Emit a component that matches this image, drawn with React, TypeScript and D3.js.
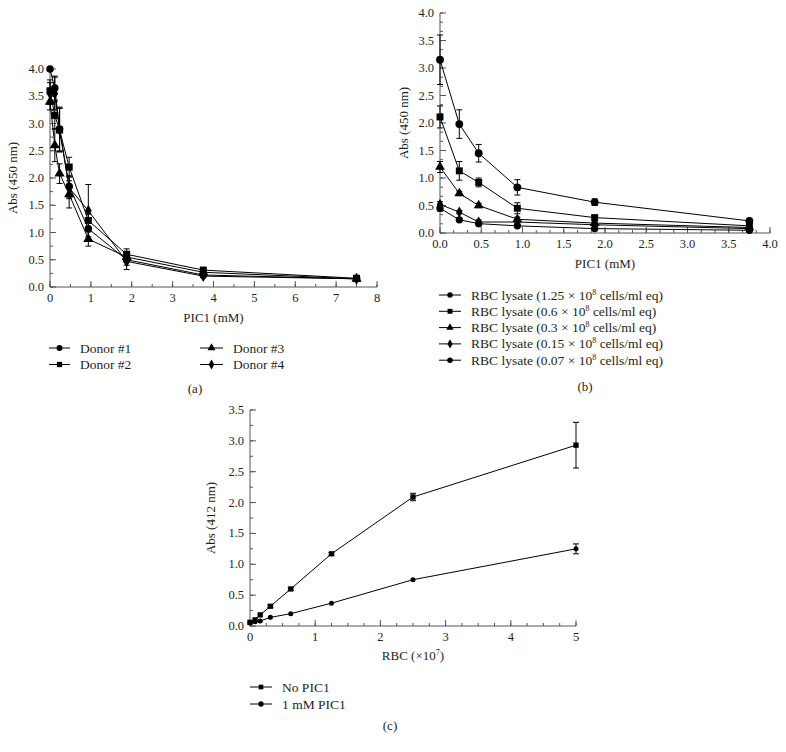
import React from "react";
import * as d3 from "d3";

// ---------- Panel (a) data ----------
const donorX = [0, 0.117, 0.234, 0.469, 0.9375, 1.875, 3.75, 7.5];
const donor1 = [4.0, 3.65, 2.9, 1.85, 1.07, 0.5, 0.22, 0.15];
const donor1Err = [0.0, 0.22, 0.4, 0.2, 0.2, 0.1, 0.03, 0.02];
const donor2 = [3.6, 3.15, 2.88, 2.2, 1.22, 0.6, 0.31, 0.16];
const donor2Err = [0.2, 0.25, 0.4, 0.18, 0.12, 0.1, 0.04, 0.03];
const donor3 = [3.4, 2.6, 2.08, 1.7, 0.88, 0.55, 0.27, 0.15];
const donor3Err = [0.15, 0.3, 0.18, 0.25, 0.13, 0.08, 0.03, 0.02];
const donor4 = [3.55, 3.55, 2.88, 1.82, 1.4, 0.47, 0.2, 0.15];
const donor4Err = [0.2, 0.3, 0.4, 0.2, 0.48, 0.15, 0.03, 0.02];
const donorLabels = ["Donor #1", "Donor #2", "Donor #3", "Donor #4"];
const aXTicks = [0, 1, 2, 3, 4, 5, 6, 7, 8];
const aYTicks = [0, 0.5, 1, 1.5, 2, 2.5, 3, 3.5, 4];

// ---------- Panel (b) data ----------
const lysateX = [0, 0.234, 0.469, 0.9375, 1.875, 3.75];
const lys125 = [3.15, 1.98, 1.45, 0.83, 0.56, 0.22];
const lys125Err = [0.45, 0.26, 0.16, 0.14, 0.06, 0.03];
const lys06 = [2.11, 1.13, 0.92, 0.45, 0.28, 0.13];
const lys06Err = [0.2, 0.17, 0.08, 0.1, 0.04, 0.03];
const lys03 = [1.2, 0.72, 0.5, 0.25, 0.18, 0.1];
const lys03Err = [0.1, 0.04, 0.04, 0.04, 0.03, 0.02];
const lys015 = [0.52, 0.38, 0.2, 0.2, 0.15, 0.08];
const lys015Err = [0.05, 0.03, 0.04, 0.03, 0.02, 0.02];
const lys007 = [0.45, 0.24, 0.17, 0.13, 0.08, 0.05];
const lys007Err = [0.05, 0.03, 0.03, 0.02, 0.02, 0.02];
const lysateConc = ["1.25", "0.6", "0.3", "0.15", "0.07"];
const bXTicks = [0, 0.5, 1, 1.5, 2, 2.5, 3, 3.5, 4];
const bYTicks = [0, 0.5, 1, 1.5, 2, 2.5, 3, 3.5, 4];

// ---------- Panel (c) data ----------
const rbcX = [0, 0.078, 0.156, 0.3125, 0.625, 1.25, 2.5, 5];
const noPic1 = [0.06, 0.1, 0.18, 0.32, 0.6, 1.17, 2.09, 2.93];
const noPic1Err = [0.01, 0.01, 0.01, 0.02, 0.02, 0.02, 0.06, 0.37];
const withPic1 = [0.05, 0.07, 0.08, 0.14, 0.2, 0.37, 0.75, 1.25];
const withPic1Err = [0.01, 0.01, 0.01, 0.01, 0.01, 0.01, 0.01, 0.08];
const cLabels = ["No PIC1", "1 mM PIC1"];
const cXTicks = [0, 1, 2, 3, 4, 5];
const cYTicks = [0, 0.5, 1, 1.5, 2, 2.5, 3, 3.5];

const FONT = "'Liberation Serif', 'DejaVu Serif', serif";
const TXT = "#231f20";
const AX = "#555";

type SymT = "circle" | "square" | "triangle" | "diamond";
const symMap: Record<SymT, d3.SymbolType> = {
  circle: d3.symbolCircle,
  square: d3.symbolSquare,
  triangle: d3.symbolTriangle,
  diamond: d3.symbolDiamond,
};

function Marker({ x, y, type, size }: { x: number; y: number; type: SymT; size: number }) {
  const p = d3.symbol().type(symMap[type]).size(size)() as string;
  return <path d={p} transform={`translate(${x},${y})`} fill="#000" />;
}

interface Series {
  ys: number[];
  err: number[];
  sym: SymT;
  size: number;
}

function Panel({
  xs,
  series,
  xDomain,
  yDomain,
  xRange,
  yRange,
  xTicks,
  yTicks,
  xMinorStep,
  yMinorStep,
  xFmt,
  yFmt,
  xLabel,
  yLabel,
  xLabelY,
  yLabelX,
  capW,
}: any) {
  const xs_ = d3.scaleLinear().domain(xDomain).range(xRange);
  const ys_ = d3.scaleLinear().domain(yDomain).range(yRange);
  const line = d3
    .line<[number, number]>()
    .x((d) => xs_(d[0]))
    .y((d) => ys_(d[1]));
  const xMinor = d3.range(xDomain[0], xDomain[1] + 1e-9, xMinorStep);
  const yMinor = d3.range(yDomain[0], yDomain[1] + 1e-9, yMinorStep);
  const x0 = xRange[0];
  const y0 = yRange[0];
  return (
    <g>
      <line x1={x0} x2={x0} y1={yRange[0]} y2={yRange[1]} stroke={AX} strokeWidth={1} />
      <line x1={xRange[0]} x2={xRange[1]} y1={y0} y2={y0} stroke={AX} strokeWidth={1} />
      {xMinor.map((t: number, i: number) => (
        <line key={"xm" + i} x1={xs_(t)} x2={xs_(t)} y1={y0} y2={y0 - 3} stroke={AX} />
      ))}
      {yMinor.map((t: number, i: number) => (
        <line key={"ym" + i} x1={x0} x2={x0 + 3} y1={ys_(t)} y2={ys_(t)} stroke={AX} />
      ))}
      {xTicks.map((t: number) => (
        <g key={"xt" + t}>
          <line x1={xs_(t)} x2={xs_(t)} y1={y0} y2={y0 - 6} stroke={AX} />
          <text x={xs_(t)} y={y0 + 15} textAnchor="middle" fontSize={12.5} fill={TXT} fontFamily={FONT}>
            {xFmt(t)}
          </text>
        </g>
      ))}
      {yTicks.map((t: number) => (
        <g key={"yt" + t}>
          <line x1={x0} x2={x0 + 6} y1={ys_(t)} y2={ys_(t)} stroke={AX} />
          <text x={x0 - 6} y={ys_(t) + 4} textAnchor="end" fontSize={12.5} fill={TXT} fontFamily={FONT}>
            {yFmt(t)}
          </text>
        </g>
      ))}
      <text x={(xRange[0] + xRange[1]) / 2} y={xLabelY} textAnchor="middle" fontSize={13} fill={TXT} fontFamily={FONT}>
        {xLabel}
      </text>
      <text
        transform={`translate(${yLabelX},${(yRange[0] + yRange[1]) / 2}) rotate(-90)`}
        textAnchor="middle"
        fontSize={13}
        fill={TXT}
        fontFamily={FONT}
      >
        {yLabel}
      </text>
      {series.map((s: Series, si: number) => {
        const pts: [number, number][] = xs.map((x: number, i: number) => [x, s.ys[i]]);
        return (
          <g key={"s" + si}>
            <path d={line(pts) as string} fill="none" stroke="#000" strokeWidth={1} />
            {pts.map((p, i) =>
              s.err[i] > 0.015 ? (
                <g key={"e" + i}>
                  <line x1={xs_(p[0])} x2={xs_(p[0])} y1={ys_(p[1] - s.err[i])} y2={ys_(p[1] + s.err[i])} stroke="#000" />
                  <line x1={xs_(p[0]) - capW} x2={xs_(p[0]) + capW} y1={ys_(p[1] + s.err[i])} y2={ys_(p[1] + s.err[i])} stroke="#000" />
                  <line x1={xs_(p[0]) - capW} x2={xs_(p[0]) + capW} y1={ys_(p[1] - s.err[i])} y2={ys_(p[1] - s.err[i])} stroke="#000" />
                </g>
              ) : null
            )}
            {pts.map((p, i) => (
              <Marker key={"m" + i} x={xs_(p[0])} y={ys_(p[1])} type={s.sym} size={s.size} />
            ))}
          </g>
        );
      })}
    </g>
  );
}

function LegendItem({ x, y, sym, size, label, lineW }: any) {
  return (
    <g>
      <line x1={x} x2={x + lineW} y1={y} y2={y} stroke="#000" />
      <Marker x={x + lineW / 2} y={y} type={sym} size={size} />
      <text x={x + lineW + 10} y={y + 4.5} fontSize={13.5} fill={TXT} fontFamily={FONT}>
        {label}
      </text>
    </g>
  );
}

export default function App() {
  const fmt1 = d3.format(".1f");
  const fmt0 = d3.format("d");
  const aSeries: Series[] = [
    { ys: donor1, err: donor1Err, sym: "circle", size: 45 },
    { ys: donor2, err: donor2Err, sym: "square", size: 50 },
    { ys: donor3, err: donor3Err, sym: "triangle", size: 45 },
    { ys: donor4, err: donor4Err, sym: "diamond", size: 40 },
  ];
  const bSeries: Series[] = [
    { ys: lys125, err: lys125Err, sym: "circle", size: 48 },
    { ys: lys06, err: lys06Err, sym: "square", size: 48 },
    { ys: lys03, err: lys03Err, sym: "triangle", size: 42 },
    { ys: lys015, err: lys015Err, sym: "diamond", size: 36 },
    { ys: lys007, err: lys007Err, sym: "circle", size: 42 },
  ];
  const cSeries: Series[] = [
    { ys: noPic1, err: noPic1Err, sym: "square", size: 28 },
    { ys: withPic1, err: withPic1Err, sym: "circle", size: 20 },
  ];
  const aSyms: SymT[] = ["circle", "square", "triangle", "diamond"];
  const bSyms: SymT[] = ["circle", "square", "triangle", "diamond", "circle"];
  const cSyms: SymT[] = ["square", "circle"];
  return (
    <svg
      width={786}
      height={752}
      style={{ position: "absolute", left: 0, top: 0, background: "#fff" }}
    >
      <rect width={786} height={752} fill="#fff" />
      {/* (a) */}
      <Panel
        xs={donorX}
        series={aSeries}
        xDomain={[0, 8]}
        yDomain={[0, 4]}
        xRange={[50, 377]}
        yRange={[287, 69]}
        xTicks={aXTicks}
        yTicks={aYTicks}
        xMinorStep={0.5}
        yMinorStep={0.25}
        xFmt={fmt0}
        yFmt={fmt1}
        xLabel="PIC1 (mM)"
        yLabel="Abs (450 nm)"
        xLabelY={322}
        yLabelX={17}
        capW={3}
      />
      {donorLabels.map((l, i) => (
        <LegendItem
          key={l}
          x={i < 2 ? 49 : 200}
          y={348 + (i % 2) * 16.5}
          sym={aSyms[i]}
          size={28}
          label={l}
          lineW={i < 2 ? 21 : 23}
        />
      ))}
      <text x={195} y={393} textAnchor="middle" fontSize={13} fill={TXT} fontFamily={FONT}>(a)</text>

      {/* (b) */}
      <Panel
        xs={lysateX}
        series={bSeries}
        xDomain={[0, 4]}
        yDomain={[0, 4]}
        xRange={[440, 770]}
        yRange={[233, 13]}
        xTicks={bXTicks}
        yTicks={bYTicks}
        xMinorStep={1 / 6}
        yMinorStep={1 / 6}
        xFmt={fmt1}
        yFmt={fmt1}
        xLabel="PIC1 (mM)"
        yLabel="Abs (450 nm)"
        xLabelY={268}
        yLabelX={408}
        capW={3}
      />
      {lysateConc.map((c, i) => (
        <LegendItem
          key={c}
          x={439}
          y={295 + i * 16.3}
          sym={bSyms[i]}
          size={24}
          lineW={22}
          label={
            <>
              {`RBC lysate (${c} × 10`}
              <tspan dy={-5} fontSize={8}>8</tspan>
              <tspan dy={5}>{" cells/ml eq)"}</tspan>
            </>
          }
        />
      ))}
      <text x={585} y={391} textAnchor="middle" fontSize={13} fill={TXT} fontFamily={FONT}>(b)</text>

      {/* (c) */}
      <Panel
        xs={rbcX}
        series={cSeries}
        xDomain={[0, 5]}
        yDomain={[0, 3.5]}
        xRange={[250, 576]}
        yRange={[626, 410]}
        xTicks={cXTicks}
        yTicks={cYTicks}
        xMinorStep={0.25}
        yMinorStep={0.25}
        xFmt={fmt0}
        yFmt={fmt1}
        xLabel={
          <>
            {"RBC (×10"}
            <tspan dy={-5} fontSize={8}>7</tspan>
            <tspan dy={5}>)</tspan>
          </>
        }
        yLabel="Abs (412 nm)"
        xLabelY={660}
        yLabelX={215}
        capW={3}
      />
      {cLabels.map((l, i) => (
        <LegendItem key={l} x={250} y={687 + i * 17} sym={cSyms[i]} size={22} lineW={22} label={l} />
      ))}
      <text x={390} y={730} textAnchor="middle" fontSize={13} fill={TXT} fontFamily={FONT}>(c)</text>
    </svg>
  );
}
